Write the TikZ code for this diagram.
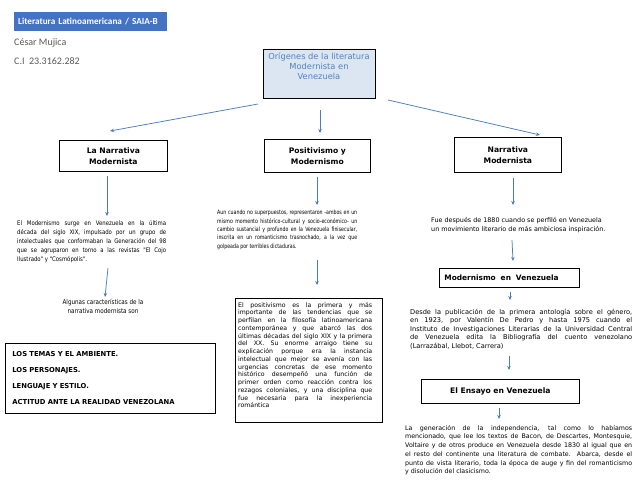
\documentclass[tikz,border=0pt]{standalone}
\usepackage{fontspec}
\setmainfont{DejaVu Sans}
\newfontfamily\carl{Carlito}
\newfontfamily\condf{DejaVu Sans}[FakeStretch=0.85]
\newfontfamily\narrowf{DejaVu Sans}[FakeStretch=0.78]
\usetikzlibrary{arrows.meta}
\definecolor{hdrblue}{HTML}{4472C4}
\definecolor{ttlfill}{HTML}{DCE6F2}
\definecolor{ttltext}{HTML}{4F81BD}
\definecolor{arrblue}{HTML}{4A7EBB}
\definecolor{namegray}{HTML}{595959}
\newlength\jw
\newcommand\jl[1]{\makebox[\jw][s]{#1}}
\begin{document}
\begin{tikzpicture}[x=1pt,y=-1pt,
  box/.style={draw=black, line width=0.8pt, inner sep=0pt},
  lbl/.style={box, font=\fontsize{7.6}{11}\selectfont\bfseries, align=center, anchor=north west},
  body/.style={inner sep=0pt, anchor=north west, align=left},
  arr/.style={draw=arrblue, line width=0.75pt, -{Stealth[length=4pt,width=3.5pt]}}]
\useasboundingbox (0,0) rectangle (638,493);
\fill[white] (0,0) rectangle (638,493);

% header
\node[fill=hdrblue, text=white, font=\carl\bfseries\fontsize{9.2}{10}\selectfont,
  minimum height=19, text width=145, inner xsep=4, inner ysep=0, align=left,
  anchor=north west] (hdr) at (14,12) {Literatura Latinoamericana / SAIA-B};
\node[anchor=west, inner sep=0, text=namegray, font=\carl\fontsize{10}{11}\selectfont] (name) at (14,43) {César Mujica};
\node[anchor=west, inner sep=0, text=namegray, font=\carl\fontsize{10}{11}\selectfont] (ci) at (14,61) {C.I\ \ 23.3162.282};

% title
\node[box, fill=ttlfill, minimum width=112, minimum height=49, anchor=north west] (title) at (263,49) {};
\node[inner sep=0, anchor=north, align=center, text=ttltext, font=\fontsize{8.3}{10}\selectfont] (titletxt) at (319,52.5)
  {Orígenes de la literatura\\Modernista en\\Venezuela};

% level 1 boxes
\node[lbl, minimum width=108, minimum height=31] (narr) at (59,140) {La Narrativa\\Modernista};
\node[lbl, minimum width=106, minimum height=33] (posi) at (264,139) {Positivismo y\\Modernismo};
\node[lbl, minimum width=107, minimum height=35] (narr2) at (454,137) {Narrativa\\Modernista};

% left column
\setlength\jw{149pt}
\node[body, font=\condf\fontsize{6.3}{9}\selectfont] (leftbody) at (17,220.5) {%
\jl{El Modernismo surge en Venezuela en la última}\\
\jl{década del siglo XIX, impulsado por un grupo de}\\
\jl{intelectuales que conformaban la Generación del 98}\\
\jl{que se agruparon en torno a las revistas "El Cojo}\\
Ilustrado" y "Cosmópolis".};
\node[inner sep=0, anchor=north, align=center, font=\condf\fontsize{6.6}{9.5}\selectfont] (algunas) at (103,299)
  {Algunas características de la\\narrativa modernista son};
\node[box, minimum width=210, minimum height=70, text width=196, inner xsep=7, align=left,
  anchor=north west, font=\fontsize{6.8}{16}\selectfont\bfseries] (rasgos) at (5,343)
  {LOS TEMAS Y EL AMBIENTE.\\LOS PERSONAJES.\\LENGUAJE Y ESTILO.\\ACTITUD ANTE LA REALIDAD VENEZOLANA};

% middle column
\setlength\jw{140pt}
\node[body, font=\narrowf\fontsize{6}{8.4}\selectfont] (midbody) at (217,210) {%
\jl{Aun cuando no superpuestos, representaron -ambos en un}\\
\jl{mismo momento histórico-cultural y socio-económico- un}\\
\jl{cambio sustancial y profundo en la Venezuela finisecular,}\\
\jl{inscrita en un romanticismo trasnochado, a la vez que}\\
golpeada por terribles dictaduras.};
\node[box, minimum width=147, minimum height=124, anchor=north west] (posibox) at (235,298) {};
\setlength\jw{134pt}
\node[body, font=\fontsize{6.2}{7.75}\selectfont] (posibody) at (238,302) {%
\jl{El positivismo es la primera y más}\\
\jl{importante de las tendencias que se}\\
\jl{perfilan en la filosofía latinoamericana}\\
\jl{contemporánea y que abarcó las dos}\\
\jl{últimas décadas del siglo XIX y la primera}\\
\jl{del XX. Su enorme arraigo tiene su}\\
\jl{explicación porque era la instancia}\\
\jl{intelectual que mejor se avenía con las}\\
\jl{urgencias concretas de ese momento}\\
\jl{histórico desempeñó una función de}\\
\jl{primer orden como reacción contra los}\\
\jl{rezagos coloniales, y una disciplina que}\\
\jl{fue necesaria para la inexperiencia}\\
romántica};

% right column
\node[body, font=\fontsize{6.4}{9}\selectfont] (rbody1) at (431,217)
  {Fue después de 1880 cuando se perfiló en Venezuela\\un movimiento literario de más ambiciosa inspiración.};
\node[box, minimum width=140, minimum height=19, text width=130, inner xsep=5, align=left,
  anchor=north west, font=\fontsize{7.4}{9}\selectfont\bfseries] (modv) at (439,268) {Modernismo~ en~ Venezuela};
\setlength\jw{222pt}
\node[body, font=\fontsize{6.6}{8.5}\selectfont] (rbody2) at (410,309) {%
\jl{Desde la publicación de la primera antología sobre el género,}\\
\jl{en 1923, por Valentín De Pedro y hasta 1975 cuando el}\\
\jl{Instituto de Investigaciones Literarias de la Universidad Central}\\
\jl{de Venezuela edita la Bibliografía del cuento venezolano}\\
(Larrazábal, Llebot, Carrera)};
\node[lbl, minimum width=158, minimum height=24] (ensayo) at (421,379) {El Ensayo en Venezuela};
\setlength\jw{227pt}
\node[body, font=\fontsize{6.3}{8.7}\selectfont] (rbody3) at (405,425) {%
\jl{La generación de la independencia, tal como lo habíamos}\\
\jl{mencionado, que lee los textos de Bacon, de Descartes, Montesquie,}\\
\jl{Voltaire y de otros produce en Venezuela desde 1830 al igual que en}\\
\jl{el resto del continente una literatura de combate. Abarca, desde el}\\
\jl{punto de vista literario, toda la época de auge y fin del romanticismo}\\
y disolución del clasicismo.};

% connectors
\coordinate (a1s) at (258,104); \coordinate (a1e) at (110,131);
\coordinate (a2s) at (320,110); \coordinate (a2e) at (320,133);
\coordinate (a3s) at (388,100); \coordinate (a3e) at (540,135);
\coordinate (a4s) at (107,176); \coordinate (a4e) at (107,216);
\coordinate (a5s) at (108,268); \coordinate (a5e) at (105,297);
\coordinate (a6s) at (317,177); \coordinate (a6e) at (317,205);
\coordinate (a7s) at (317,260); \coordinate (a7e) at (317,285);
\coordinate (a8s) at (513,178); \coordinate (a8e) at (513,205);
\coordinate (a9s) at (512,240); \coordinate (a9e) at (513,261);
\coordinate (a10s) at (510,292); \coordinate (a10e) at (510,300);
\coordinate (a11s) at (509,356); \coordinate (a11e) at (509,370);
\coordinate (a12s) at (499,408); \coordinate (a12e) at (499,419);
\foreach \i in {1,...,12} \draw[arr] (a\i s) -- (a\i e);
\end{tikzpicture}
\end{document}
